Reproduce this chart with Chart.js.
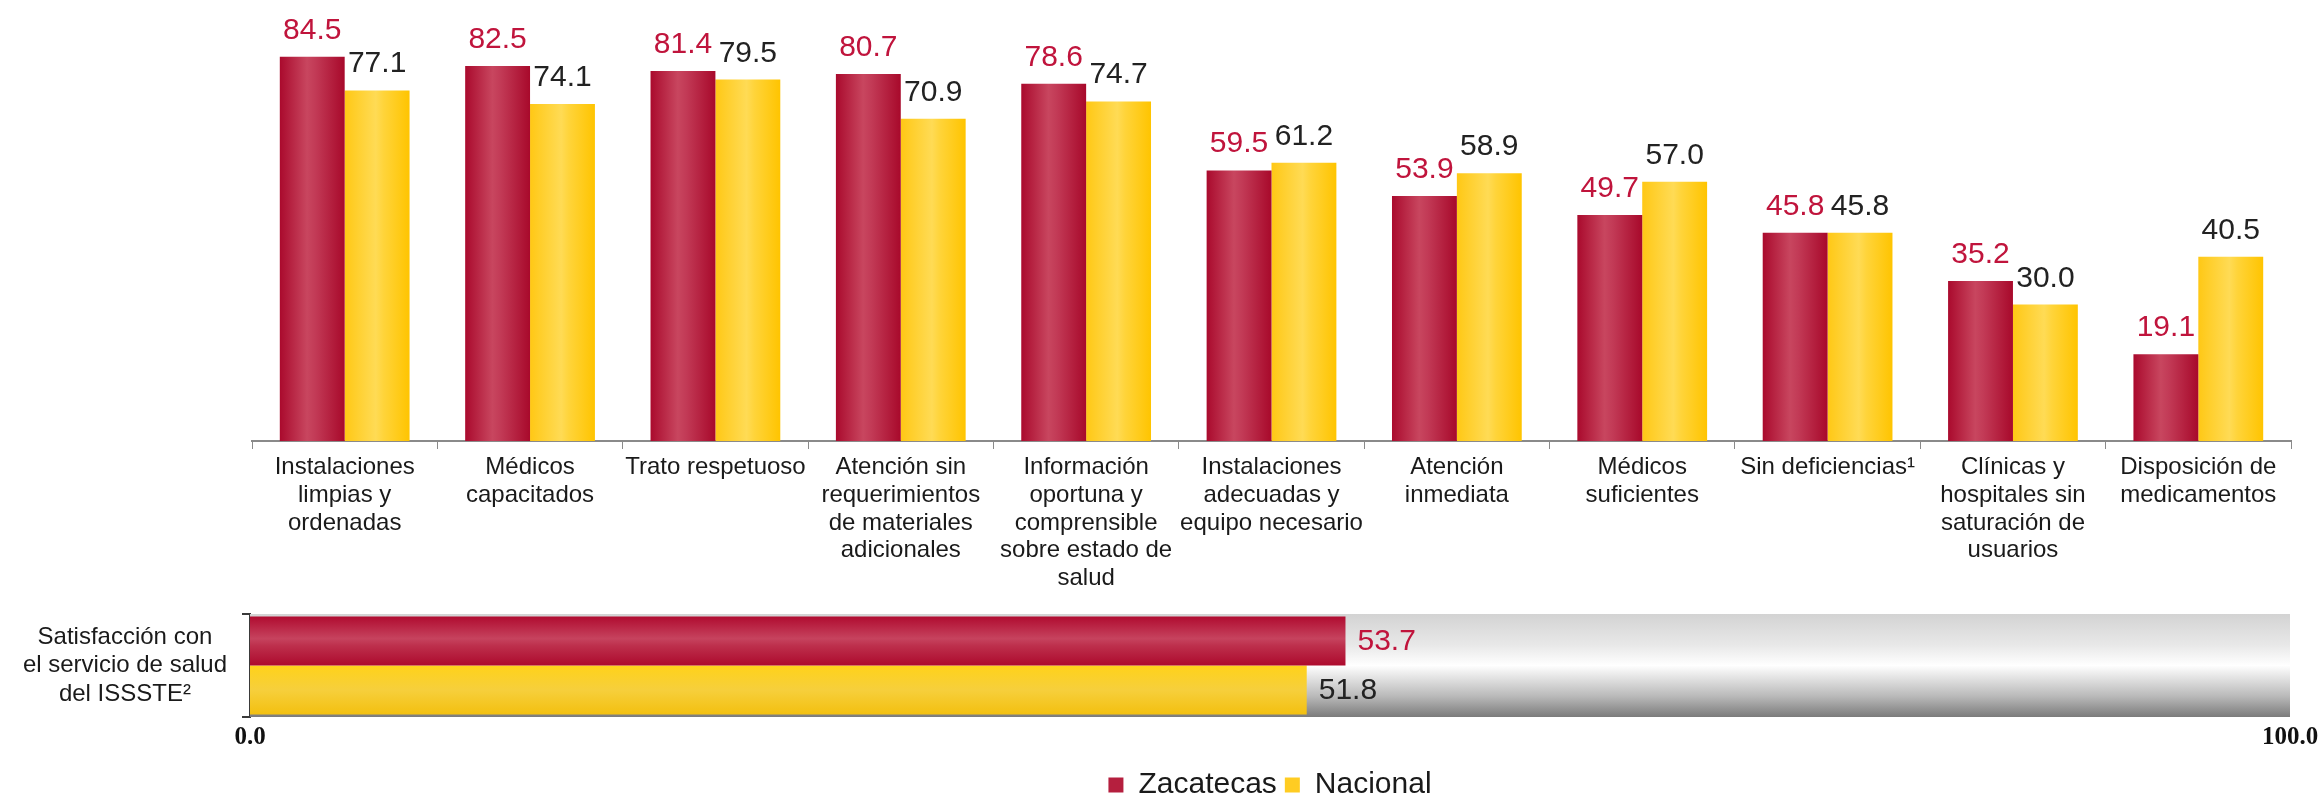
<!DOCTYPE html>
<html><head><meta charset="utf-8">
<script src="https://cdn.jsdelivr.net/npm/chart.js@4.4.1/dist/chart.umd.min.js"></script>
<style>
html,body{margin:0;padding:0;background:#fff;overflow:hidden;width:2323px;height:799px;}
#c1{position:absolute;left:0;top:0;}
#c2{position:absolute;left:0;top:600px;}
</style></head><body>
<canvas id="c1" width="2323" height="600"></canvas>
<canvas id="c2" width="2323" height="210"></canvas>
<script>
// ---------- DATA ----------
const categories = [
  ['Instalaciones','limpias y','ordenadas'],
  ['Médicos','capacitados'],
  ['Trato respetuoso'],
  ['Atención sin','requerimientos','de materiales','adicionales'],
  ['Información','oportuna y','comprensible','sobre estado de','salud'],
  ['Instalaciones','adecuadas y','equipo necesario'],
  ['Atención','inmediata'],
  ['Médicos','suficientes'],
  ['Sin deficiencias¹'],
  ['Clínicas y','hospitales sin','saturación de','usuarios'],
  ['Disposición de','medicamentos']
];
const seriesNames = ['Zacatecas', 'Nacional'];
const zacatecas = [84.5, 82.5, 81.4, 80.7, 78.6, 59.5, 53.9, 49.7, 45.8, 35.2, 19.1];
const nacional  = [77.1, 74.1, 79.5, 70.9, 74.7, 61.2, 58.9, 57.0, 45.8, 30.0, 40.5];

const satisfCategory = [['Satisfacción con','el servicio de salud','del ISSSTE²']];
const satisfZacatecas = [53.7];
const satisfNacional  = [51.8];
const satisfFull      = [100];
const satisfTicks     = [0, 100];

// ---------- STYLE ----------
const FONT = '"Liberation Sans", Arial, Helvetica, sans-serif';
const RED_TXT = '#c0143c';
const DARK_TXT = '#222222';
const CAT_PCT = 0.70;
const H_CAT_PCT = 0.95;

const redStopsV = [[0,'#aa0a2d'],[0.42,'#c8465f'],[0.55,'#c23a56'],[1,'#a8092b']];
const yelStopsV = [[0,'#ffc815'],[0.48,'#ffdb55'],[0.6,'#ffd43a'],[1,'#ffc400']];
const redStopsH = [[0,'#b00c30'],[0.45,'#c6435e'],[0.6,'#bd2f4c'],[1,'#ad0a2d']];
const yelStopsH = [[0,'#ffd21a'],[0.5,'#f6cf3c'],[1,'#f3c010']];
const grayStops = [[0,'#d3d3d3'],[0.3,'#e8e8e8'],[0.5,'#ffffff'],[0.58,'#ececec'],[0.8,'#b9b9b9'],[1,'#7b7b7b']];

function mkGrad(ctx, x0, y0, x1, y1, stops){
  const g = ctx.createLinearGradient(x0, y0, x1, y1);
  stops.forEach(s => g.addColorStop(s[0], s[1]));
  return g;
}

function vertBarColor(stops, side){
  return (c) => {
    const chart = c.chart, xs = chart.scales && chart.scales.x;
    if (c.type !== 'data' || !xs || !chart.chartArea || !isFinite(xs.width) || xs.width <= 0) return stops[1][1];
    const center = xs.getPixelForValue(c.dataIndex);
    const bw = xs.width / categories.length * CAT_PCT / 2;
    const x0 = side < 0 ? center - bw : center;
    return mkGrad(chart.ctx, x0, 0, x0 + bw, 0, stops);
  };
}
function horzBarColor(stops, part){
  return (c) => {
    const chart = c.chart, ys = chart.scales && chart.scales.y;
    if (c.type !== 'data' || !ys || !chart.chartArea || !isFinite(ys.height) || ys.height <= 0) return stops[1][1];
    const center = ys.getPixelForValue(c.dataIndex);
    const ch = ys.height / satisfCategory.length;
    let y0, y1;
    if (part === 'full') { y0 = center - ch/2; y1 = center + ch/2; }
    else if (part < 0) { y0 = center - ch*H_CAT_PCT/2; y1 = center; }
    else { y0 = center; y1 = center + ch*H_CAT_PCT/2; }
    return mkGrad(chart.ctx, 0, y0, 0, y1, stops);
  };
}

const valueLabels = {
  id: 'valueLabels',
  afterDatasetsDraw(chart, args, opts){
    const ctx = chart.ctx;
    ctx.save();
    chart.data.datasets.forEach((ds, di) => {
      if (!ds.labelColor) return;
      const meta = chart.getDatasetMeta(di);
      if (meta.hidden) return;
      meta.data.forEach((el, i) => {
        const txt = Number(ds.data[i]).toFixed(1);
        ctx.fillStyle = ds.labelColor;
        ctx.font = opts.font;
        if (chart.options.indexAxis === 'y') {
          ctx.textAlign = 'left'; ctx.textBaseline = 'middle';
          ctx.fillText(txt, el.x + opts.offset, el.y + 1);
        } else {
          ctx.textAlign = 'center'; ctx.textBaseline = 'alphabetic';
          ctx.fillText(txt, el.x, el.y - opts.offset);
        }
      });
    });
    ctx.restore();
  }
};

// ---------- TOP CHART ----------
new Chart(document.getElementById('c1'), {
  type: 'bar',
  plugins: [valueLabels],
  data: {
    labels: categories,
    datasets: [
      { label: seriesNames[0], data: zacatecas, backgroundColor: vertBarColor(redStopsV, -1), borderWidth: 0, labelColor: RED_TXT },
      { label: seriesNames[1], data: nacional, backgroundColor: vertBarColor(yelStopsV, 1), borderWidth: 0, labelColor: DARK_TXT }
    ]
  },
  options: {
    responsive: false, animation: false, devicePixelRatio: 1,
    layout: { padding: { left: 252, right: 32, top: 0, bottom: 0 } },
    datasets: { bar: { categoryPercentage: CAT_PCT, barPercentage: 1 } },
    plugins: {
      legend: { display: false },
      tooltip: { enabled: false },
      valueLabels: { font: '30px ' + FONT, offset: 18 }
    },
    scales: {
      x: {
        grid: { display: true, drawOnChartArea: false, drawTicks: true, tickLength: 8, color: '#8a8a8a', lineWidth: 1, offset: true },
        border: { display: true, color: '#8a8a8a', width: 2 },
        ticks: { color: '#1a1a1a', font: { family: FONT, size: 24, lineHeight: 1.15 }, padding: 5, maxRotation: 0, autoSkip: false },
        afterFit(s){ s.height = 159; }
      },
      y: { display: false, min: 0, max: 97 }
    }
  }
});

// ---------- BOTTOM CHART ----------
const legendColors = ['#b51f3e', '#ffcc22'];
new Chart(document.getElementById('c2'), {
  type: 'bar',
  plugins: [valueLabels],
  data: {
    labels: satisfCategory,
    datasets: [
      { label: seriesNames[0], data: satisfZacatecas, backgroundColor: horzBarColor(redStopsH, -1), borderWidth: 0, labelColor: RED_TXT, order: 1 },
      { label: seriesNames[1], data: satisfNacional, backgroundColor: horzBarColor(yelStopsH, 1), borderWidth: 0, labelColor: DARK_TXT, order: 1 },
      { label: '_full', data: satisfFull, backgroundColor: horzBarColor(grayStops, 'full'), borderWidth: 0, grouped: false, categoryPercentage: 1, barPercentage: 1, order: 2 }
    ]
  },
  options: {
    indexAxis: 'y',
    responsive: false, animation: false, devicePixelRatio: 1,
    layout: { padding: { left: 0, right: 33, top: 14, bottom: 0 } },
    datasets: { bar: { categoryPercentage: H_CAT_PCT, barPercentage: 1 } },
    plugins: {
      tooltip: { enabled: false },
      valueLabels: { font: '30px ' + FONT, offset: 12 },
      legend: {
        position: 'bottom', fullSize: false, align: 'center',
        labels: {
          boxWidth: 15, boxHeight: 15, padding: 8, color: '#1a1a1a',
          font: { family: FONT, size: 30 },
          generateLabels(chart){
            const items = Chart.defaults.plugins.legend.labels.generateLabels(chart);
            return items.filter(it => it.datasetIndex < 2).map(it => Object.assign({}, it, {
              fillStyle: legendColors[it.datasetIndex], strokeStyle: legendColors[it.datasetIndex], lineWidth: 0
            }));
          }
        }
      }
    },
    scales: {
      y: {
        grid: { display: true, drawOnChartArea: false, drawTicks: true, tickLength: 8, color: '#3a3a3a', lineWidth: 2, offset: true },
        border: { display: true, color: '#3a3a3a', width: 2 },
        ticks: { crossAlign: 'center', padding: 15, color: '#1a1a1a', font: { family: FONT, size: 24, lineHeight: 1.19 } },
        afterFit(s){ s.width = 250; s.paddingTop = 0; s.paddingBottom = 0; }
      },
      x: {
        min: 0, max: 100,
        grid: { display: false, drawTicks: false },
        border: { display: false },
        afterBuildTicks(s){ s.ticks = satisfTicks.map(v => ({ value: v })); },
        ticks: { padding: 6, color: '#111', font: { family: '"Liberation Serif", "Times New Roman", serif', weight: 'bold', size: 25 }, callback: v => Number(v).toFixed(1) },
        afterFit(s){ s.height = 45; s.paddingLeft = 0; s.paddingRight = 0; }
      }
    }
  }
});
</script>
</body></html>
